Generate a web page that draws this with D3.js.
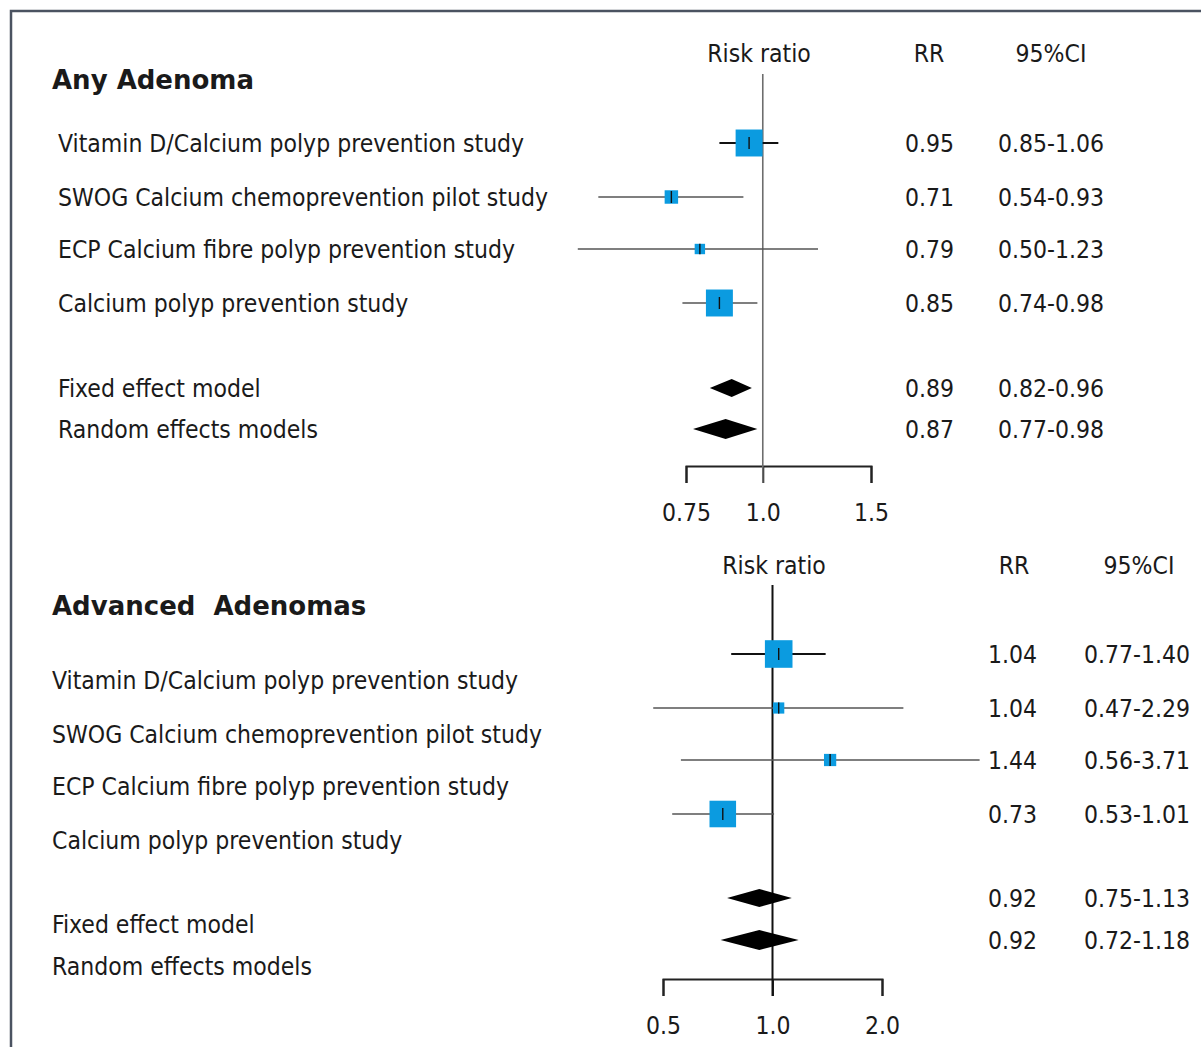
<!DOCTYPE html>
<html>
<head>
<meta charset="utf-8">
<script src="https://cdn.jsdelivr.net/npm/d3@7/dist/d3.min.js"></script>
<style>
  html, body { margin: 0; padding: 0; background: #fff; }
  svg { display: block; }
  text { fill: #1a1a1a; }
</style>
</head>
<body>
<svg id="chart" width="1201" height="1047"></svg>
<script>
// ---- data ----
const studies = [
  "Vitamin D/Calcium polyp prevention study",
  "SWOG Calcium chemoprevention pilot study",
  "ECP Calcium fibre polyp prevention study",
  "Calcium polyp prevention study"
];
const models = ["Fixed effect model", "Random effects models"];

// Any adenoma
const anyRR = [0.95, 0.71, 0.79, 0.85];
const anyLo = [0.85, 0.54, 0.50, 0.74];
const anyHi = [1.06, 0.93, 1.23, 0.98];
const anyWeight = [41.7, 10.4, 6.2, 41.7];   // % weight, drives box area
const anyPoolRR = [0.89, 0.87];
const anyPoolLo = [0.82, 0.77];
const anyPoolHi = [0.96, 0.98];
const anyTicks = [0.75, 1.0, 1.5];
const anyTickLabels = ["0.75", "1.0", "1.5"];

// Advanced adenomas
const advRR = [1.04, 1.04, 1.44, 0.73];
const advLo = [0.77, 0.47, 0.56, 0.53];
const advHi = [1.40, 2.29, 3.71, 1.01];
const advWeight = [43.7, 7.2, 8.6, 40.5];
const advPoolRR = [0.92, 0.92];
const advPoolLo = [0.75, 0.72];
const advPoolHi = [1.13, 1.18];
const advTicks = [0.5, 1.0, 2.0];
const advTickLabels = ["0.5", "1.0", "2.0"];

const fmtRR = d3.format(".2f");
const fmtCI = (lo, hi) => fmtRR(lo) + "-" + fmtRR(hi);

// ---- layout ----
const svg = d3.select("#chart");
const LABEL_FONT = "'DejaVu Sans Condensed', 'DejaVu Sans', sans-serif";
const TITLE_FONT = "'DejaVu Sans', Verdana, sans-serif";
const FS = 24.5;
const BOX_FILL = "#0b9be0";

// frame (top and left edges)
svg.append("path")
  .attr("d", "M11,1047 V11 H1201")
  .attr("fill", "none")
  .attr("stroke", "#4b5361")
  .attr("stroke-width", 2.5);

const panels = [
  {
    title: "Any Adenoma", titleY: 80,
    rr: anyRR, lo: anyLo, hi: anyHi, w: anyWeight,
    pRR: anyPoolRR, pLo: anyPoolLo, pHi: anyPoolHi,
    ticks: anyTicks, tickLabels: anyTickLabels,
    domain: [0.75, 1.5], range: [686, 871],
    headerY: 53, headerX: [759, 929, 1051],
    rowY: [143, 197, 249, 303], poolY: [388, 429],
    labelDy: 0, labelX: 58,
    rrX: 905, ciX: 998,
    refTop: 74, axisY: 466,
    refColor: "#6d6d6d", refWidth: 1.6
  },
  {
    title: "Advanced\u00a0 Adenomas", titleY: 606,
    rr: advRR, lo: advLo, hi: advHi, w: advWeight,
    pRR: advPoolRR, pLo: advPoolLo, pHi: advPoolHi,
    ticks: advTicks, tickLabels: advTickLabels,
    domain: [0.5, 2.0], range: [663, 882],
    headerY: 565, headerX: [774, 1014, 1139],
    rowY: [654, 708, 760, 814], poolY: [898, 940],
    labelDy: 26, labelX: 52,
    rrX: 988, ciX: 1084,
    refTop: 585, axisY: 979,
    refColor: "#111", refWidth: 2
  }
];

const boxSize = d3.scaleSqrt().domain([0, 45]).range([0, 28]);

panels.forEach(p => {
  const g = svg.append("g");
  const x = d3.scaleLog().domain(p.domain).range(p.range);

  // section title
  g.append("text")
    .attr("x", 52).attr("y", p.titleY)
    .attr("dy", "0.35em")
    .attr("font-family", TITLE_FONT)
    .attr("font-weight", "bold")
    .attr("font-size", 26)
    .text(p.title);

  // column headers
  ["Risk ratio", "RR", "95%CI"].forEach((h, i) => {
    g.append("text")
      .attr("x", p.headerX[i]).attr("y", p.headerY)
      .attr("dy", "0.35em")
      .attr("text-anchor", "middle")
      .attr("font-family", LABEL_FONT)
      .attr("font-size", FS)
      .text(h);
  });

  // row labels
  const labels = studies.concat(models);
  const labelY = p.rowY.concat(p.poolY);
  g.selectAll("text.lab").data(labels).join("text")
    .attr("class", "lab")
    .attr("x", p.labelX)
    .attr("y", (d, i) => labelY[i] + p.labelDy)
    .attr("dy", "0.35em")
    .attr("font-family", LABEL_FONT)
    .attr("font-size", FS)
    .text(d => d);

  // numeric columns
  const allRR = p.rr.concat(p.pRR), allLo = p.lo.concat(p.pLo), allHi = p.hi.concat(p.pHi);
  g.selectAll("text.rr").data(allRR).join("text")
    .attr("class", "rr")
    .attr("x", p.rrX).attr("y", (d, i) => labelY[i])
    .attr("dy", "0.35em")
    .attr("font-family", LABEL_FONT).attr("font-size", FS)
    .text(d => fmtRR(d));
  g.selectAll("text.ci").data(allLo).join("text")
    .attr("class", "ci")
    .attr("x", p.ciX).attr("y", (d, i) => labelY[i])
    .attr("dy", "0.35em")
    .attr("font-family", LABEL_FONT).attr("font-size", FS)
    .text((d, i) => fmtCI(d, allHi[i]));

  // axis: bracket with downward end ticks
  const axis = d3.axisBottom(x)
    .tickValues(p.ticks)
    .tickFormat((d, i) => p.tickLabels[i])
    .tickSizeInner(17)
    .tickSizeOuter(17)
    .tickPadding(21);
  const ax = g.append("g")
    .attr("transform", `translate(0,${p.axisY})`)
    .call(axis);
  ax.select(".domain").attr("stroke", "#222").attr("stroke-width", 2);
  ax.selectAll(".tick line").attr("stroke", "#222").attr("stroke-width", 2);
  ax.selectAll(".tick text")
    .attr("font-family", LABEL_FONT)
    .attr("font-size", FS)
    .attr("fill", "#1a1a1a");

  // line of no effect
  g.append("line")
    .attr("x1", x(1)).attr("x2", x(1))
    .attr("y1", p.refTop).attr("y2", p.axisY + 17)
    .attr("stroke", p.refColor)
    .attr("stroke-width", p.refWidth);

  // confidence intervals
  g.selectAll("line.ci").data(p.rr).join("line")
    .attr("class", "ci")
    .attr("x1", (d, i) => x(p.lo[i]))
    .attr("x2", (d, i) => x(p.hi[i]))
    .attr("y1", (d, i) => p.rowY[i])
    .attr("y2", (d, i) => p.rowY[i])
    .attr("stroke", (d, i) => i === 0 ? "#111" : "#555")
    .attr("stroke-width", (d, i) => i === 0 ? 2.2 : 1.4);

  // weighted boxes
  g.selectAll("rect.box").data(p.rr).join("rect")
    .attr("class", "box")
    .attr("x", (d, i) => x(d) - boxSize(p.w[i]) / 2)
    .attr("y", (d, i) => p.rowY[i] - boxSize(p.w[i]) / 2)
    .attr("width", (d, i) => boxSize(p.w[i]))
    .attr("height", (d, i) => boxSize(p.w[i]))
    .attr("fill", BOX_FILL);

  // point estimate marks
  g.selectAll("line.est").data(p.rr).join("line")
    .attr("class", "est")
    .attr("x1", d => x(d)).attr("x2", d => x(d))
    .attr("y1", (d, i) => p.rowY[i] - Math.min(6, boxSize(p.w[i]) / 2))
    .attr("y2", (d, i) => p.rowY[i] + Math.min(6, boxSize(p.w[i]) / 2))
    .attr("stroke", "#111")
    .attr("stroke-width", 1.4);

  // pooled diamonds
  g.selectAll("path.diamond").data(p.pRR).join("path")
    .attr("class", "diamond")
    .attr("d", (d, i) => {
      const y = p.poolY[i], h = i === 0 ? 9 : 10;
      return `M${x(p.pLo[i])},${y} L${x(d)},${y - h} L${x(p.pHi[i])},${y} L${x(d)},${y + h} Z`;
    })
    .attr("fill", "#000");
});
</script>
</body>
</html>
